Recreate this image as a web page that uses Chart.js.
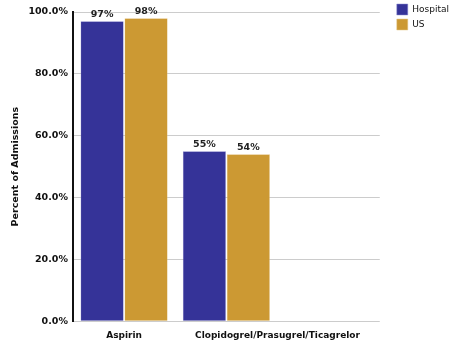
<!DOCTYPE html>
<html>
<head>
<meta charset="utf-8">
<script src="https://cdn.jsdelivr.net/npm/chart.js@4/dist/chart.umd.min.js"></script>
<style>
  html, body { margin: 0; padding: 0; background: #fff; }
  #wrap { width: 453px; height: 345px; }
</style>
</head>
<body>
<div id="wrap"><canvas id="graficoAdmisiones"></canvas></div>
<script>
const categorias = ['Aspirin', 'Clopidogrel/Prasugrel/Ticagrelor', ''];
// rótulos del eje x, repartidos en siete posiciones sin desplazamiento
const etiquetasX = ['', 'Aspirin', '', '', 'Clopidogrel/Prasugrel/Ticagrelor', '', ''];
const valoresHospital = [97, 55, null];
const valoresUS = [98, 54, null];
const marcasY = [0, 20, 40, 60, 80, 100];

const fuente = 'DejaVu Sans';

// dibuja el porcentaje encima de cada barra
const etiquetasValor = {
    id: 'etiquetasValor',
    afterDatasetsDraw(chart) {
        const ctx = chart.ctx;
        ctx.save();
        ctx.font = 'bold 9.5px "' + fuente + '"';
        ctx.fillStyle = '#222';
        ctx.textAlign = 'center';
        ctx.textBaseline = 'bottom';
        chart.data.datasets.forEach((ds, i) => {
            chart.getDatasetMeta(i).data.forEach((barra, j) => {
                const v = ds.data[j];
                if (v === null) return;
                ctx.fillText(v + '%', barra.x, barra.y - 2);
            });
        });
        ctx.restore();
    }
};

// eje vacío que sólo reserva espacio
const ejeVacio = (posicion, tam) => ({
    type: 'linear',
    position: posicion,
    grid: { display: false },
    border: { display: false },
    ticks: { display: false },
    afterFit: escala => {
        if (posicion === 'top') escala.height = tam;
        else escala.width = tam;
    }
});

new Chart(document.getElementById('graficoAdmisiones'), {
    type: 'bar',
    data: {
        labels: categorias,
        datasets: [
            {
                label: 'Hospital',
                data: valoresHospital,
                backgroundColor: '#353398',
                borderColor: '#8f8ed0',
                borderWidth: 0.5
            },
            {
                label: 'US',
                data: valoresUS,
                backgroundColor: '#cc9933',
                borderColor: '#e6c88a',
                borderWidth: 0.5
            }
        ]
    },
    options: {
        responsive: true,
        maintainAspectRatio: false,
        animation: false,
        datasets: {
            bar: { categoryPercentage: 0.86, barPercentage: 0.98 }
        },
        layout: { padding: { top: 0, right: -6, bottom: 3, left: 10 } },
        scales: {
            x: {
                display: false
            },
            xEtiquetas: {
                type: 'category',
                labels: etiquetasX,
                offset: false,
                position: 'bottom',
                grid: { display: false },
                border: { display: false },
                ticks: {
                    autoSkip: false,
                    maxRotation: 0,
                    padding: 1,
                    color: '#111',
                    font: { family: fuente, size: 9, weight: 'bold' }
                }
            },
            y: {
                min: 0,
                max: 100,
                afterBuildTicks: escala => {
                    escala.ticks = marcasY.map(v => ({ value: v }));
                },
                grid: { color: '#cccccc', lineWidth: 1, drawTicks: false },
                border: { color: '#111', width: 2 },
                ticks: {
                    padding: 5,
                    color: '#111',
                    font: { family: fuente, size: 9.5, weight: 'bold' },
                    callback: v => v.toFixed(1) + '%'
                },
                title: {
                    display: true,
                    text: 'Percent of Admissions',
                    color: '#111',
                    padding: { top: 0, bottom: 2 },
                    font: { family: fuente, size: 9.5, weight: 'bold' }
                }
            },
            margenSuperior: ejeVacio('top', 12),
            margenDerecho: ejeVacio('right', 13)
        },
        plugins: {
            legend: {
                position: 'right',
                align: 'start',
                labels: {
                    boxWidth: 11,
                    boxHeight: 11,
                    padding: 4,
                    color: '#111',
                    font: { family: fuente, size: 9 }
                }
            },
            tooltip: { enabled: false }
        }
    },
    plugins: [etiquetasValor]
});
</script>
</body>
</html>
